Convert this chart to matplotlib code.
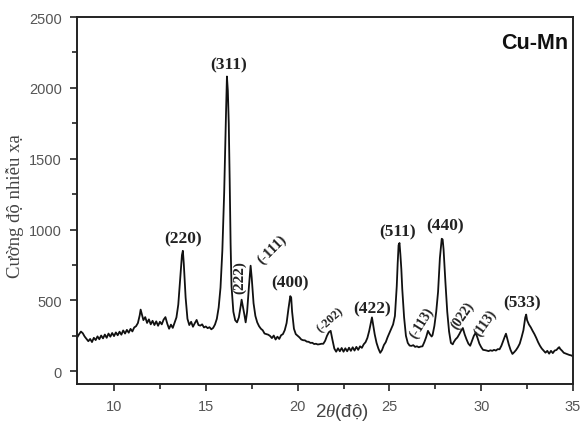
import matplotlib
matplotlib.use("Agg")
import matplotlib.pyplot as plt
from matplotlib.ticker import MultipleLocator

two_theta = [
    8.0, 8.1, 8.2, 8.3, 8.4, 8.5, 8.6, 8.7, 8.8, 8.9,
    9.0, 9.1, 9.2, 9.3, 9.4, 9.5, 9.6, 9.7, 9.8, 9.9,
    10.0, 10.1, 10.2, 10.3, 10.4, 10.5, 10.6, 10.7, 10.8, 10.9,
    11.0, 11.1, 11.2, 11.3, 11.4, 11.45, 11.5, 11.6, 11.7, 11.8, 11.9,
    12.0, 12.1, 12.2, 12.3, 12.4, 12.5, 12.6, 12.7, 12.8, 12.9,
    13.0, 13.1, 13.2, 13.3, 13.4, 13.5, 13.6, 13.7, 13.75, 13.8, 13.9,
    14.0, 14.1, 14.2, 14.3, 14.4, 14.5, 14.6, 14.7, 14.8, 14.9,
    15.0, 15.1, 15.2, 15.3, 15.4, 15.5, 15.6, 15.7, 15.8, 15.9,
    16.0, 16.05, 16.1, 16.15, 16.2, 16.25, 16.3, 16.35, 16.4, 16.5, 16.6, 16.7, 16.8, 16.9, 16.95,
    17.0, 17.1, 17.17, 17.25, 17.35, 17.44, 17.5, 17.6, 17.7, 17.8, 17.9,
    18.0, 18.1, 18.2, 18.3, 18.4, 18.5, 18.6, 18.7, 18.8, 18.9,
    19.0, 19.1, 19.2, 19.3, 19.4, 19.5, 19.6, 19.65, 19.7, 19.8, 19.9,
    20.0, 20.1, 20.2, 20.3, 20.4, 20.5, 20.6, 20.7, 20.8, 20.9,
    21.0, 21.1, 21.2, 21.3, 21.4, 21.5, 21.6, 21.7, 21.8, 21.9,
    22.0, 22.1, 22.2, 22.3, 22.4, 22.5, 22.6, 22.7, 22.8, 22.9,
    23.0, 23.1, 23.2, 23.3, 23.4, 23.5, 23.6, 23.7, 23.8, 23.9,
    24.0, 24.05, 24.1, 24.2, 24.3, 24.4, 24.5, 24.6, 24.7, 24.8, 24.9,
    25.0, 25.1, 25.2, 25.3, 25.4, 25.45, 25.5, 25.55, 25.6, 25.65, 25.7, 25.8, 25.9,
    26.0, 26.1, 26.2, 26.3, 26.4, 26.5, 26.6, 26.7, 26.8, 26.9,
    27.0, 27.1, 27.2, 27.3, 27.35, 27.45, 27.55, 27.65, 27.75, 27.85, 27.9, 27.95,
    28.0, 28.05, 28.15, 28.25, 28.35, 28.45, 28.5, 28.6, 28.7, 28.8, 28.9,
    29.0, 29.1, 29.2, 29.3, 29.4, 29.5, 29.6, 29.7, 29.8, 29.9,
    30.0, 30.1, 30.2, 30.3, 30.4, 30.5, 30.6, 30.7, 30.8, 30.9,
    31.0, 31.1, 31.2, 31.3, 31.35, 31.4, 31.5, 31.6, 31.7, 31.8, 31.9,
    32.0, 32.1, 32.2, 32.3, 32.4, 32.45, 32.5, 32.6, 32.7, 32.8, 32.9,
    33.0, 33.1, 33.2, 33.3, 33.4, 33.5, 33.6, 33.7, 33.8, 33.9,
    34.0, 34.1, 34.2, 34.25, 34.3, 34.4, 34.5, 34.6, 34.7, 34.8, 34.9, 35.0,
]

intensity = [
    240, 262, 280, 268, 245, 228, 212, 228, 206, 236,
    220, 246, 226, 252, 232, 259, 236, 266, 244, 270,
    248, 274, 254, 279, 258, 288, 266, 292, 272, 299,
    281, 309, 318, 340, 395, 435, 410, 361, 382, 341, 366,
    331, 356, 326, 352, 321, 349, 331, 364, 382, 336,
    300, 329, 306, 344, 380, 470, 640, 820, 850, 760, 520,
    370, 326, 349, 314, 339, 362, 326, 322, 331, 309,
    316, 304, 311, 296, 306, 330, 370, 450, 590, 850,
    1260, 1550, 1820, 2080, 1980, 1750, 1350, 900, 600, 420, 360, 345, 380, 460, 505,
    470, 400, 345, 420, 600, 745, 660, 480, 390, 345, 318,
    300, 289, 266, 262, 258, 249, 234, 252, 224, 244,
    228, 254, 262, 290, 340, 440, 530, 520, 420, 300, 262,
    250, 239, 224, 219, 218, 209, 208, 200, 201, 192,
    194, 189, 191, 194, 194, 215, 250, 275, 285, 220,
    160, 138, 162, 141, 164, 138, 162, 141, 166, 144,
    169, 146, 172, 151, 176, 165, 190, 205, 235, 285,
    350, 380, 340, 260, 200, 160, 130, 150, 185, 205, 240,
    270, 300, 330, 390, 600, 760, 890, 905, 820, 720, 580, 380, 250,
    200, 181, 179, 184, 172, 176, 169, 174, 176, 205,
    240, 285, 262, 245, 255, 320, 420, 560, 800, 935, 930, 860,
    740, 630, 420, 280, 200, 190, 205, 225, 238, 260, 285,
    305, 260, 225, 195, 180, 215, 250, 272, 235, 195,
    170, 151, 149, 146, 142, 148, 144, 151, 146, 156,
    155, 180, 215, 250, 265, 240, 190, 150, 122, 135, 150,
    170, 195, 240, 290, 380, 400, 360, 330, 310, 285, 262,
    235, 205, 180, 160, 145, 131, 144, 124, 144, 128,
    146, 150, 165, 170, 158, 145, 130, 125, 120, 115, 112, 105,
]

peak_labels = ["(311)", "(220)", "(222)", "(-111)", "(400)", "(-202)", "(422)",
               "(511)", "(440)", "(-113)", "(022)", "(113)", "(533)"]
label_x = [16.26, 13.76, 16.86, 18.6, 19.61, 21.76, 24.05, 25.47, 28.03, 26.77, 29.0, 30.2, 32.22]
label_y = [2167, 939, 671, 861, 628, 367, 445, 988, 1031, 346, 395, 346, 487]
label_rot = [0, 0, 90, 45, 0, 42, 0, 0, 0, 58, 55, 55, 0]
label_size = [12.5, 12.5, 11, 10.5, 12.5, 9, 12.5, 12.5, 12.5, 10, 10, 10, 12.5]

x_ticks = [10, 15, 20, 25, 30, 35]
y_ticks = [0, 500, 1000, 1500, 2000, 2500]

plt.rcParams['mathtext.fontset'] = 'custom'
plt.rcParams['mathtext.it'] = 'Liberation Serif:italic'
plt.rcParams['mathtext.rm'] = 'Liberation Sans'

fig = plt.figure(figsize=(5.85, 4.39), dpi=100)
ax = fig.add_axes([77.3 / 585, 1 - 385 / 439, (573 - 77.3) / 585, (385 - 18) / 439])

ax.plot(two_theta, intensity, color='#111111', lw=1.3)

ax.set_xlim(8, 35)
ax.set_ylim(-90, 2500)
ax.set_xticks(x_ticks)
ax.set_yticks(y_ticks)
ax.xaxis.set_minor_locator(MultipleLocator(2.5))
ax.yaxis.set_minor_locator(MultipleLocator(250))
ax.tick_params(which='major', direction='out', length=5, width=1.2, color='#222222',
               labelsize=10.5, labelcolor='#555555', pad=6)
ax.tick_params(which='minor', direction='out', length=3.5, width=1.2, color='#222222')
for lab in ax.get_xticklabels() + ax.get_yticklabels():
    lab.set_fontfamily('Liberation Sans')
for sp in ax.spines.values():
    sp.set_linewidth(1.4)
    sp.set_color('#222222')

for t, x, y, r, s in zip(peak_labels, label_x, label_y, label_rot, label_size):
    ax.text(x, y, t, ha='center', va='center', rotation=r, fontsize=s,
            fontweight='bold', family='Liberation Serif', color='#222222')

ax.text(0.99, 0.93, "Cu-Mn", transform=ax.transAxes, ha='right', va='center',
        fontsize=15.5, fontweight='bold', family='Liberation Sans', color='#111111')

fig.text(15 / 585, 1 - 206 / 439, "Cường độ nhiễu xạ", rotation=90, ha='center', va='center',
         fontsize=13.5, family='Liberation Serif', color='#444444')
fig.text(342 / 585, 1 - 413 / 439, r"2$\mathit{\theta}$(độ)", ha='center', va='center',
         fontsize=13.5, family='Liberation Sans', color='#444444')

fig.savefig("out.png", dpi=100)
